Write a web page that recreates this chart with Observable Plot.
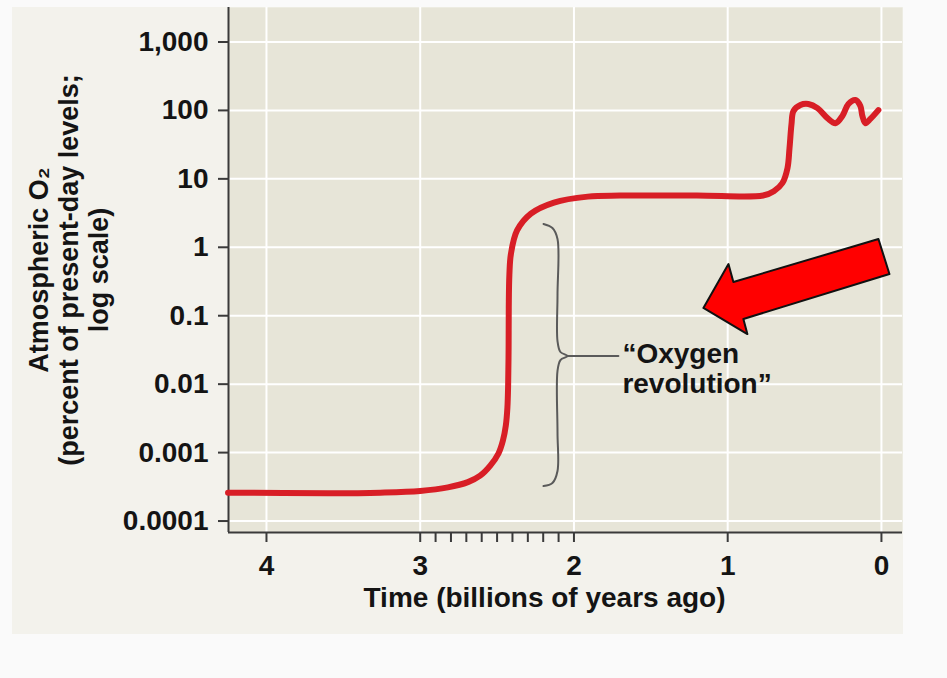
<!DOCTYPE html>
<html><head><meta charset="utf-8">
<script src="https://cdn.jsdelivr.net/npm/d3@7"></script>
<script src="https://cdn.jsdelivr.net/npm/@observablehq/plot@0.6"></script>
<style>
html,body{margin:0;padding:0;background:#fafafa;width:947px;height:678px;overflow:hidden}
#panel{position:absolute;left:12px;top:7px;width:891px;height:627px;background:#f3f2ec}
#chart{position:absolute;left:0;top:0}
</style></head><body>
<div id="panel"></div><div id="chart"></div>
<script>
// Time (billions of years ago) and atmospheric O2 (% of present-day level)
const timeGya = [4.25, 3.6, 3.26, 3.0, 2.82, 2.69, 2.61, 2.543, 2.491, 2.462, 2.443, 2.433, 2.428, 2.425, 2.424, 2.42, 2.41, 2.37, 2.28, 2.13, 1.91, 1.70, 1.2, 0.77, 0.70, 0.644, 0.611, 0.598, 0.585, 0.572, 0.527, 0.475, 0.416, 0.351, 0.299, 0.254, 0.215, 0.169, 0.137, 0.124, 0.104, 0.072, 0.02];
const o2Percent = [2.6e-4, 2.55e-4, 2.6e-4, 2.75e-4, 3.1e-4, 3.7e-4, 4.6e-4, 6.5e-4, 9.7e-4, 0.0015, 0.0025, 0.0045, 0.01, 0.035, 0.13, 0.4, 0.8, 1.76, 3.1, 4.5, 5.5, 5.7, 5.7, 5.7, 6.6, 8.7, 14.4, 28, 63, 98, 120, 124, 108, 77, 65, 83, 124, 142, 116, 83, 65, 75, 101];

// axis ticks
const xTicks = [4, 3, 2, 1, 0];
const xMinorTicks = [2.9, 2.8, 2.7, 2.6, 2.5, 2.4, 2.3, 2.2, 2.1];
const yTicks = [0.0001, 0.001, 0.01, 0.1, 1, 10, 100, 1000];
const yTickLabels = ["0.0001", "0.001", "0.01", "0.1", "1", "10", "100", "1,000"];
const xDomain = [4.247, -0.137];
const yDomain = [6.8e-5, 3190];

// "Oxygen revolution" brace (time, O2)
const braceTime = [2.198, 2.14, 2.107, 2.107, 2.107, 2.088, 2.042, 2.088, 2.107, 2.107, 2.107, 2.14, 2.198];
const braceO2 = [2.19, 1.91, 1.32, 0.2, 0.0427, 0.0295, 0.0258, 0.0225, 0.0156, 0.002, 5.38e-4, 3.59e-4, 3.24e-4];
const pointerTime = [2.042, 1.711];
const pointerO2 = [0.0258, 0.0258];
const annotationText = ["\u201cOxygen\nrevolution\u201d"];
const annotationTime = [1.685];
const annotationO2 = [0.0172];

// red arrow outline (time, O2)
const arrowTime = [1.158, 0.995, 0.963, 0.0195, -0.052, 0.898, 0.872];
const arrowO2 = [0.130, 0.570, 0.311, 1.32, 0.407, 0.0895, 0.054];

const xLabel = "Time (billions of years ago)";
const yLabel = "Atmospheric O\u2082\n(percent of present-day levels;\nlog scale)";

const curve = timeGya.map((t, i) => ({t, v: o2Percent[i]}));
const brace = braceTime.map((t, i) => ({t, v: braceO2[i]}));
const pointer = pointerTime.map((t, i) => ({t, v: pointerO2[i]}));
const arrow = arrowTime.map((t, i) => ({t, v: arrowO2[i]}));
const annot = annotationText.map((s, i) => ({s, t: annotationTime[i], v: annotationO2[i]}));

const axisColor = "#3a3a3a";
const chart = Plot.plot({
  width: 947, height: 678,
  marginLeft: 228, marginRight: 45, marginTop: 7, marginBottom: 146,
  x: {domain: xDomain},
  y: {type: "log", domain: yDomain},
  style: {fontFamily: "'Liberation Sans', Arial, Helvetica, sans-serif", fontWeight: "bold", fontSize: "28px", background: "transparent", color: "#141414", overflow: "visible"},
  marks: [
    Plot.frame({fill: "#e7e5d8", stroke: "none"}),
    Plot.gridX(xTicks, {stroke: "#ffffff", strokeOpacity: 1, strokeWidth: 2}),
    Plot.gridY(yTicks, {stroke: "#ffffff", strokeOpacity: 1, strokeWidth: 2}),
    Plot.ruleX([xDomain[0]], {stroke: axisColor, strokeWidth: 2}),
    Plot.ruleY([yDomain[0]], {stroke: axisColor, strokeWidth: 2}),
    Plot.axisX(xTicks, {tickSize: 10, tickPadding: 13, tickFormat: d => String(d), label: null, stroke: axisColor, strokeWidth: 2, fill: "#141414"}),
    Plot.axisX(xMinorTicks, {tickSize: 10, tickFormat: () => "", label: null, stroke: axisColor, strokeWidth: 2}),
    Plot.axisY(yTicks, {tickSize: 10, tickPadding: 10, tickFormat: d => yTickLabels[yTicks.indexOf(d)], label: null, stroke: axisColor, strokeWidth: 2, fill: "#141414"}),
    Plot.line(curve, {x: "t", y: "v", stroke: "#d81e26", strokeWidth: 6, curve: "catmull-rom"}),
    Plot.line(brace, {x: "t", y: "v", stroke: "#5a5a5a", strokeWidth: 2, curve: "catmull-rom"}),
    Plot.line(pointer, {x: "t", y: "v", stroke: "#5a5a5a", strokeWidth: 2}),
    Plot.text(annot, {x: "t", y: "v", text: "s", textAnchor: "start", lineAnchor: "middle", lineHeight: 1.1, fontSize: 28, fontWeight: "bold", fill: "#141414"}),
    Plot.line(arrow, {x: "t", y: "v", fill: "#ff0000", stroke: "#111111", strokeWidth: 2, curve: "linear-closed"}),
    Plot.text([xLabel], {frameAnchor: "bottom", dx: -21, dy: 66, lineAnchor: "middle", fontSize: 28, fontWeight: "bold", fill: "#141414"}),
    Plot.text([yLabel], {frameAnchor: "left", rotate: -90, dx: -160, textAnchor: "middle", lineAnchor: "middle", lineHeight: 1.1, fontSize: 27, fontWeight: "bold", fill: "#141414"})
  ]
});
document.getElementById("chart").appendChild(chart);
</script>
</body></html>
